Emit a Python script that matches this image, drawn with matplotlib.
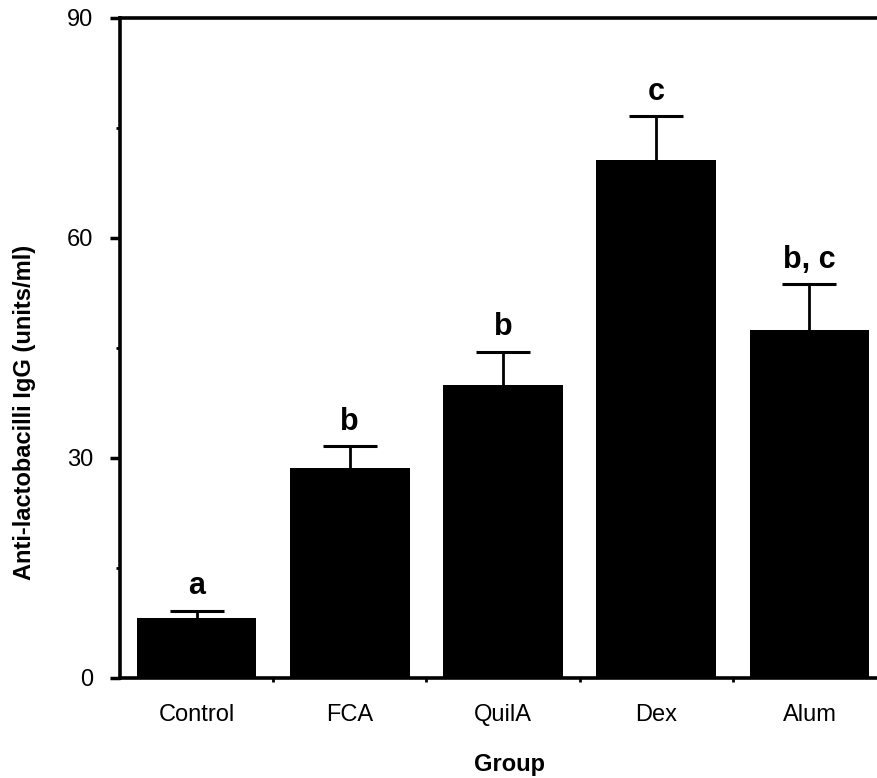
import matplotlib
matplotlib.use('Agg')
import matplotlib.pyplot as plt
import numpy as np

plt.rcParams['font.family'] = ['Liberation Sans', 'DejaVu Sans']

# data
groups = ['Control', 'FCA', 'QuilA', 'Dex', 'Alum']
means = [8.2, 28.7, 40.0, 70.6, 47.5]
errors = [1.0, 2.9, 4.5, 6.0, 6.2]
letters = ['a', 'b', 'b', 'c', 'b, c']

fig = plt.figure(figsize=(8.78, 7.78), dpi=100)
ax = fig.add_axes([120 / 878, 1 - 678 / 778, 766 / 878, 660 / 778])

x = np.arange(len(groups))
ax.bar(x, means, width=0.78, color='black', zorder=2)
eb = ax.errorbar(x, means, yerr=[[0] * len(errors), errors],
                 fmt='none', ecolor='black', elinewidth=2, capsize=19.5, capthick=2.2, zorder=3)
# only the upper cap is drawn
eb[1][0].set_visible(False)

# significance letters above the error bars
for xi, m, e, lab in zip(x, means, errors, letters):
    ax.annotate(lab, (xi, m + e), xytext=(0, 12), textcoords='offset points',
                ha='center', va='baseline', fontsize=22, fontweight='bold')

ax.set_xlim(-0.5, len(groups) - 0.5)
ax.set_ylim(0, 90)
ax.set_yticks([0, 30, 60, 90])
ax.set_yticks([15, 45, 75], minor=True)
ax.set_xticks(x)
ax.set_xticklabels(groups)
ax.set_xticks(np.arange(0.5, len(groups) - 0.5), minor=True)

ax.tick_params(axis='y', which='major', length=7, width=2.5, labelsize=17, pad=12)
ax.tick_params(axis='y', which='minor', length=3, width=2)
ax.tick_params(axis='x', which='major', length=0, labelsize=17, pad=19)
ax.tick_params(axis='x', which='minor', length=3, width=2, direction='out')

for s in ['left', 'bottom', 'top']:
    ax.spines[s].set_linewidth(2.6)
ax.spines['right'].set_visible(False)

ax.set_xlabel('Group', fontsize=17, fontweight='bold')
ax.xaxis.set_label_coords((511 - 121) / 766, (678 - 765) / 660)
ax.xaxis.label.set_va('center')

fig.text(25 / 878, 1 - 412 / 778, 'Anti-lactobacilli IgG (units/ml)', rotation=90,
         ha='center', va='center', fontsize=17, fontweight='bold')

fig.savefig('out.png', dpi=100)
